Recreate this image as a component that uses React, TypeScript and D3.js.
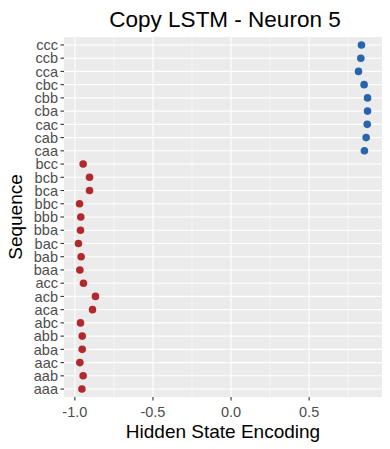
import React from "react";
import * as d3 from "d3";

const sequences = ["ccc","ccb","cca","cbc","cbb","cba","cac","cab","caa","bcc","bcb","bca","bbc","bbb","bba","bac","bab","baa","acc","acb","aca","abc","abb","aba","aac","aab","aaa"];
const values = [0.835,0.831,0.816,0.852,0.874,0.874,0.872,0.865,0.854,-0.947,-0.906,-0.906,-0.970,-0.962,-0.964,-0.977,-0.960,-0.968,-0.945,-0.868,-0.887,-0.964,-0.953,-0.953,-0.968,-0.947,-0.955];
const xTicks = [-1.0, -0.5, 0.0, 0.5];
const xTickLabels = ["-1.0", "-0.5", "0.0", "0.5"];

const W = 390, H = 449;
const L = 64, R = 382, T = 37, B = 397;
const FONT = "'Liberation Sans', Arial, Helvetica, sans-serif";

export default function App() {
  const minV = d3.min(values)!, maxV = d3.max(values)!;
  const pad = (maxV - minV) * 0.05;
  const x = d3.scaleLinear().domain([minV - pad, maxV + pad]).range([L, R]);
  const n = sequences.length;
  const step = (B - T) / (n - 1 + 1.2);
  const y = (i: number) => T + step * 0.6 + i * step;
  const minorTicks = [-0.75, -0.25, 0.25, 0.75].filter(v => x(v) > L && x(v) < R);
  return (
    <svg width={W} height={H} style={{ position: "absolute", left: 0, top: 0 }} fontFamily={FONT}>
      <rect x={0} y={0} width={W} height={H} fill="white" />
      <rect x={L} y={T} width={R - L} height={B - T} fill="#EBEBEB" />
      {minorTicks.map(v => (
        <line key={"m" + v} x1={x(v)} x2={x(v)} y1={T} y2={B} stroke="white" strokeWidth={0.55} />
      ))}
      {xTicks.map(v => (
        <line key={"g" + v} x1={x(v)} x2={x(v)} y1={T} y2={B} stroke="white" strokeWidth={1.1} />
      ))}
      {sequences.map((s, i) => (
        <line key={"h" + s} x1={L} x2={R} y1={y(i)} y2={y(i)} stroke="white" strokeWidth={1.1} />
      ))}
      {sequences.map((s, i) => (
        <circle key={"p" + s} cx={x(values[i])} cy={y(i)} r={3.8} fill={values[i] > 0 ? "#2A63AE" : "#B3282E"} />
      ))}
      {sequences.map((s, i) => (
        <g key={"t" + s}>
          <line x1={L - 3.5} x2={L} y1={y(i)} y2={y(i)} stroke="#333333" strokeWidth={1.1} />
          <text x={L - 6} y={y(i)} dy="0.36em" textAnchor="end" fontSize={14.5} fill="#4D4D4D">{s}</text>
        </g>
      ))}
      {xTicks.map((v, i) => (
        <g key={"x" + v}>
          <line x1={x(v)} x2={x(v)} y1={B} y2={B + 3.5} stroke="#333333" strokeWidth={1.1} />
          <text x={x(v)} y={B + 20} textAnchor="middle" fontSize={14.5} fill="#4D4D4D">{xTickLabels[i]}</text>
        </g>
      ))}
      <text x={(L + R) / 2} y={438} textAnchor="middle" fontSize={19} fill="black">Hidden State Encoding</text>
      <text transform={`translate(22,${(T + B) / 2}) rotate(-90)`} textAnchor="middle" fontSize={19} fill="black">Sequence</text>
      <text x={(L + R) / 2 + 2} y={27} textAnchor="middle" fontSize={22.5} fill="black">Copy LSTM - Neuron 5</text>
    </svg>
  );
}
